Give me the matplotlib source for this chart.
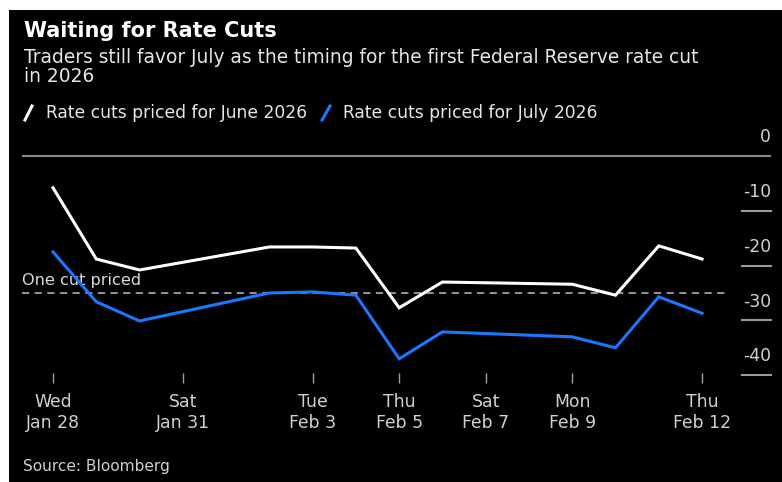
import numpy as np
import pandas as pd
import matplotlib
matplotlib.use("Agg")
import matplotlib.pyplot as plt
import matplotlib.dates as mdates
import matplotlib.transforms as mtrans
from matplotlib.patches import Rectangle
from matplotlib.lines import Line2D

# ---- data (rate cuts priced, bp) ----
dates = pd.to_datetime([
    "2026-01-28", "2026-01-29", "2026-01-30", "2026-02-02", "2026-02-03", "2026-02-04",
    "2026-02-05", "2026-02-06", "2026-02-09", "2026-02-10", "2026-02-11", "2026-02-12",
])
june_cuts = [-5.8, -18.8, -20.8, -16.6, -16.6, -16.8, -27.7, -23.0, -23.4, -25.4, -16.4, -18.8]
july_cuts = [-17.5, -26.6, -30.1, -25.0, -24.8, -25.4, -37.0, -32.1, -33.0, -35.0, -25.7, -28.7]

tick_dates = pd.to_datetime(["2026-01-28", "2026-01-31", "2026-02-03", "2026-02-05",
                             "2026-02-07", "2026-02-09", "2026-02-12"])
tick_labels = ["Wed\nJan 28", "Sat\nJan 31", "Tue\nFeb 3", "Thu\nFeb 5",
               "Sat\nFeb 7", "Mon\nFeb 9", "Thu\nFeb 12"]
y_ticks = [0, -10, -20, -30, -40]
one_cut = -25

# ---- layout (pixels) ----
W, H = 782, 482
plt.rcParams["font.family"] = ["DejaVu Sans"]

ax_left, ax_right, ax_top, ax_bottom = 22, 771, 130, 383
zero_px, px_per_unit = 156, 5.48
first_px, px_per_day = 53, 43.27

fig = plt.figure(figsize=(W / 100, H / 100), dpi=100)
fig.patch.set_facecolor("white")
fig.add_artist(Rectangle((9 / W, 0), 1 - 9 / W, 1 - 10 / H, transform=fig.transFigure,
                         facecolor="black", edgecolor="none", zorder=-10))

ax = fig.add_axes([ax_left / W, 1 - ax_bottom / H, (ax_right - ax_left) / W, (ax_bottom - ax_top) / H])
ax.set_facecolor("none")
for s in ax.spines.values():
    s.set_visible(False)

x0 = mdates.date2num(dates[0])
ax.set_xlim(x0 - (first_px - ax_left) / px_per_day, x0 + (ax_right - first_px) / px_per_day)
ax.set_ylim(-(ax_bottom - zero_px) / px_per_unit, (zero_px - ax_top) / px_per_unit)

# lines
ax.plot(dates, june_cuts, color="white", lw=2.2, solid_joinstyle="miter", zorder=4)
ax.plot(dates, july_cuts, color="#1a78ff", lw=2.2, solid_joinstyle="miter", zorder=4)

# zero line and "one cut" line
blend = mtrans.blended_transform_factory(ax.transAxes, ax.transData)
ax.axhline(0, color="#8a8a8a", lw=1.5, zorder=2)
ax.axhline(one_cut, xmin=0, xmax=(728 - ax_left) / (ax_right - ax_left), color="#a0a0a0",
           lw=1.3, ls=(0, (4, 3)), zorder=3)
ax.annotate("One cut priced", xy=(0, one_cut), xycoords=blend, xytext=(0, 9), textcoords="offset points",
            color="#d8d8d8", fontsize=11.6, ha="left", va="center")

# y tick marks + labels on the right
seg0 = (742 - ax_left) / (ax_right - ax_left)
for v in y_ticks:
    if v != 0:
        ax.plot([seg0, 1.0], [v, v], transform=blend, color="#9a9a9a", lw=1.5, clip_on=False)
    ax.annotate(f"{v}", xy=(1.0, v), xycoords=blend, xytext=(0, 13.5), textcoords="offset points",
                ha="right", va="center", color="#d0d0d0", fontsize=12.4)
ax.set_yticks([])

# x ticks
ax.set_xticks(mdates.date2num(tick_dates))
ax.set_xticklabels(tick_labels, fontsize=12.4, color="#d0d0d0", linespacing=1.25)
ax.tick_params(axis="x", direction="in", length=7, width=1, color="#a0a0a0", pad=7)

# titles, legend, source
fig.text(24 / W, 1 - 31 / H, "Waiting for Rate Cuts", color="white", fontsize=15,
         fontweight="bold", ha="left", va="center")
fig.text(24 / W, 1 - 67 / H, "Traders still favor July as the timing for the first Federal Reserve rate cut\nin 2026",
         color="#e6e6e6", fontsize=13.4, ha="left", va="center", linespacing=1.0)

fig.add_artist(Line2D([25 / W, 32 / W], [1 - 120 / H, 1 - 106 / H], color="white", lw=2.2,
                      transform=fig.transFigure))
fig.text(46 / W, 1 - 113 / H, "Rate cuts priced for June 2026", color="#e6e6e6", fontsize=12.3,
         ha="left", va="center")
fig.add_artist(Line2D([322 / W, 330 / W], [1 - 120 / H, 1 - 106 / H], color="#1a78ff", lw=2.2,
                      transform=fig.transFigure))
fig.text(343 / W, 1 - 113 / H, "Rate cuts priced for July 2026", color="#e6e6e6", fontsize=12.3,
         ha="left", va="center")

fig.text(23 / W, 1 - 466 / H, "Source: Bloomberg", color="#cfcfcf", fontsize=11.1, ha="left", va="center")

fig.savefig("out.png", dpi=100, facecolor=fig.get_facecolor())
